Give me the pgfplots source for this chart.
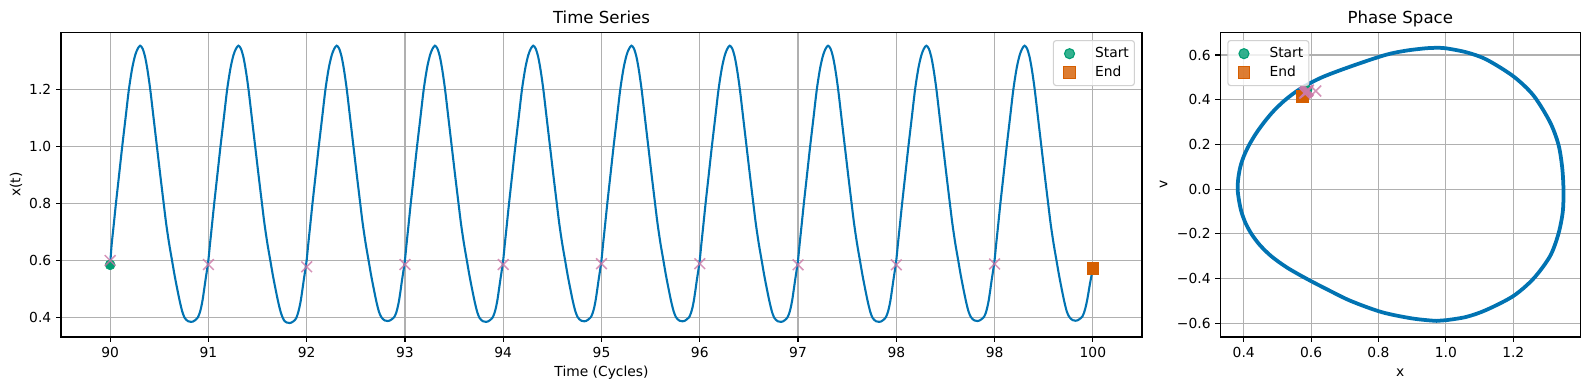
\documentclass[border=0pt]{standalone}
\usepackage{fontspec}
\setmainfont{DejaVu Sans}
\usepackage{pgfplots}
\pgfplotsset{compat=1.18}
\definecolor{cbblue}{HTML}{0173B2}
\definecolor{cbgreen}{HTML}{029E73}
\definecolor{cborange}{HTML}{D55E00}
\definecolor{cbpink}{HTML}{CC79A7}
\definecolor{gridgray}{HTML}{B0B0B0}
\pgfplotsset{
  mplstyle/.style={
    scale only axis,
    axis line style={line width=0.8bp},
    every tick/.style={black, line width=0.8bp},
    major tick length=3.5bp,
    tick align=outside,
    xtick pos=left, ytick pos=left,
    grid=major,
    major grid style={gridgray, line width=0.8bp},
    tick label style={font=\fontsize{10}{12}\selectfont},
    label style={font=\fontsize{10}{12}\selectfont},
    xlabel style={at={(axis description cs:0.5,0)}, anchor=base, yshift=-28.6bp},
    legend style={draw=black!18, rounded corners=2bp, fill=white, fill opacity=0.8, draw opacity=1, text opacity=1, inner xsep=2bp, inner ysep=3bp, font=\fontsize{10}{12}\selectfont, row sep=0.5bp, line width=0.8bp},
    legend cell align=left,
  },
  mkleg/.style={legend image code/.code={\path[draw=none,fill=none] (0bp,0bp) rectangle (26bp,0bp); \draw[##1] plot coordinates {(9.6bp,0bp)};}},
}
\begin{document}
\begin{tikzpicture}
\useasboundingbox (0,0) rectangle (1144.08bp,280.8bp);
% ---------------- Time series ----------------
\begin{axis}[mplstyle, name=ts,
  at={(43.92bp,38.16bp)}, anchor=south west,
  width=778.32bp, height=219.38bp,
  xmin=89.5, xmax=100.5, ymin=0.332, ymax=1.400,
  xtick={90,91,92,93,94,95,96,97,98,99,100},
  xticklabels={90,91,92,93,94,95,96,97,98,98,100},
  ytick={0.4,0.6,0.8,1.0,1.2},
  yticklabels={0.4,0.6,0.8,1.0,1.2},
  xlabel={Time (Cycles)},
  ylabel={x(t)},
  ylabel style={at={([xshift=-29.3bp]axis description cs:0,0.5)}, anchor=base},
  legend style={at={(0.9935,0.9747)}, anchor=north east},
]
\addplot[cbblue, line width=1.5bp, smooth, forget plot] table {
90.000 0.585
90.015 0.654
90.035 0.720
90.059 0.800
90.091 0.900
90.123 1.000
90.157 1.100
90.191 1.200
90.225 1.275
90.255 1.320
90.280 1.342
90.305 1.353
90.330 1.343
90.355 1.315
90.380 1.268
90.408 1.200
90.442 1.100
90.476 1.000
90.510 0.900
90.545 0.800
90.570 0.730
90.600 0.660
90.630 0.600
90.655 0.550
90.683 0.500
90.710 0.455
90.735 0.420
90.757 0.400
90.775 0.392
90.795 0.387
90.825 0.385
90.845 0.3865
90.865 0.391
90.880 0.3955
90.893 0.401
90.910 0.415
90.925 0.434
90.940 0.460
90.954 0.492
90.970 0.531
90.985 0.565
91.000 0.602
91.015 0.654
91.035 0.720
91.059 0.800
91.091 0.900
91.123 1.000
91.157 1.100
91.191 1.200
91.225 1.275
91.255 1.320
91.280 1.342
91.305 1.353
91.330 1.343
91.355 1.315
91.380 1.268
91.408 1.200
91.442 1.100
91.476 1.000
91.510 0.900
91.545 0.800
91.570 0.730
91.600 0.660
91.630 0.600
91.655 0.550
91.683 0.500
91.710 0.455
91.735 0.420
91.757 0.399
91.775 0.388
91.795 0.383
91.825 0.381
91.845 0.3825
91.865 0.387
91.880 0.3915
91.893 0.398
91.910 0.414
91.925 0.434
91.940 0.460
91.954 0.492
91.970 0.531
91.985 0.565
92.000 0.602
92.015 0.654
92.035 0.720
92.059 0.800
92.091 0.900
92.123 1.000
92.157 1.100
92.191 1.200
92.225 1.275
92.255 1.320
92.280 1.342
92.305 1.353
92.330 1.343
92.355 1.315
92.380 1.268
92.408 1.200
92.442 1.100
92.476 1.000
92.510 0.900
92.545 0.800
92.570 0.730
92.600 0.660
92.630 0.600
92.655 0.550
92.683 0.500
92.710 0.455
92.735 0.421
92.757 0.403
92.775 0.395
92.795 0.390
92.825 0.388
92.845 0.3895
92.865 0.394
92.880 0.398
92.893 0.403
92.910 0.416
92.925 0.435
92.940 0.460
92.954 0.492
92.970 0.531
92.985 0.565
93.000 0.602
93.015 0.654
93.035 0.720
93.059 0.800
93.091 0.900
93.123 1.000
93.157 1.100
93.191 1.200
93.225 1.275
93.255 1.320
93.280 1.342
93.305 1.353
93.330 1.343
93.355 1.315
93.380 1.268
93.408 1.200
93.442 1.100
93.476 1.000
93.510 0.900
93.545 0.800
93.570 0.730
93.600 0.660
93.630 0.600
93.655 0.550
93.683 0.500
93.710 0.455
93.735 0.420
93.757 0.400
93.775 0.392
93.795 0.387
93.825 0.385
93.845 0.3865
93.865 0.391
93.880 0.3955
93.893 0.401
93.910 0.415
93.925 0.434
93.940 0.460
93.954 0.492
93.970 0.531
93.985 0.565
94.000 0.602
94.015 0.654
94.035 0.720
94.059 0.800
94.091 0.900
94.123 1.000
94.157 1.100
94.191 1.200
94.225 1.275
94.255 1.320
94.280 1.342
94.305 1.353
94.330 1.343
94.355 1.315
94.380 1.268
94.408 1.200
94.442 1.100
94.476 1.000
94.510 0.900
94.545 0.800
94.570 0.730
94.600 0.660
94.630 0.600
94.655 0.550
94.683 0.500
94.710 0.455
94.735 0.421
94.757 0.402
94.775 0.394
94.795 0.389
94.825 0.387
94.845 0.3885
94.865 0.393
94.880 0.3975
94.893 0.402
94.910 0.416
94.925 0.434
94.940 0.460
94.954 0.492
94.970 0.531
94.985 0.565
95.000 0.602
95.015 0.654
95.035 0.720
95.059 0.800
95.091 0.900
95.123 1.000
95.157 1.100
95.191 1.200
95.225 1.275
95.255 1.320
95.280 1.342
95.305 1.353
95.330 1.343
95.355 1.315
95.380 1.268
95.408 1.200
95.442 1.100
95.476 1.000
95.510 0.900
95.545 0.800
95.570 0.730
95.600 0.660
95.630 0.600
95.655 0.550
95.683 0.500
95.710 0.455
95.735 0.421
95.757 0.402
95.775 0.394
95.795 0.389
95.825 0.387
95.845 0.3885
95.865 0.393
95.880 0.3975
95.893 0.402
95.910 0.416
95.925 0.434
95.940 0.460
95.954 0.492
95.970 0.531
95.985 0.565
96.000 0.602
96.015 0.654
96.035 0.720
96.059 0.800
96.091 0.900
96.123 1.000
96.157 1.100
96.191 1.200
96.225 1.275
96.255 1.320
96.280 1.342
96.305 1.353
96.330 1.343
96.355 1.315
96.380 1.268
96.408 1.200
96.442 1.100
96.476 1.000
96.510 0.900
96.545 0.800
96.570 0.730
96.600 0.660
96.630 0.600
96.655 0.550
96.683 0.500
96.710 0.455
96.735 0.420
96.757 0.400
96.775 0.392
96.795 0.387
96.825 0.385
96.845 0.3865
96.865 0.391
96.880 0.3955
96.893 0.401
96.910 0.415
96.925 0.434
96.940 0.460
96.954 0.492
96.970 0.531
96.985 0.565
97.000 0.602
97.015 0.654
97.035 0.720
97.059 0.800
97.091 0.900
97.123 1.000
97.157 1.100
97.191 1.200
97.225 1.275
97.255 1.320
97.280 1.342
97.305 1.353
97.330 1.343
97.355 1.315
97.380 1.268
97.408 1.200
97.442 1.100
97.476 1.000
97.510 0.900
97.545 0.800
97.570 0.730
97.600 0.660
97.630 0.600
97.655 0.550
97.683 0.500
97.710 0.455
97.735 0.420
97.757 0.400
97.775 0.392
97.795 0.387
97.825 0.385
97.845 0.3865
97.865 0.391
97.880 0.3955
97.893 0.401
97.910 0.415
97.925 0.434
97.940 0.460
97.954 0.492
97.970 0.531
97.985 0.565
98.000 0.602
98.015 0.654
98.035 0.720
98.059 0.800
98.091 0.900
98.123 1.000
98.157 1.100
98.191 1.200
98.225 1.275
98.255 1.320
98.280 1.342
98.305 1.353
98.330 1.343
98.355 1.315
98.380 1.268
98.408 1.200
98.442 1.100
98.476 1.000
98.510 0.900
98.545 0.800
98.570 0.730
98.600 0.660
98.630 0.600
98.655 0.550
98.683 0.500
98.710 0.455
98.735 0.421
98.757 0.403
98.775 0.395
98.795 0.390
98.825 0.388
98.845 0.3895
98.865 0.394
98.880 0.398
98.893 0.403
98.910 0.416
98.925 0.435
98.940 0.460
98.954 0.492
98.970 0.531
98.985 0.565
99.000 0.602
99.015 0.654
99.035 0.720
99.059 0.800
99.091 0.900
99.123 1.000
99.157 1.100
99.191 1.200
99.225 1.275
99.255 1.320
99.280 1.342
99.305 1.353
99.330 1.343
99.355 1.315
99.380 1.268
99.408 1.200
99.442 1.100
99.476 1.000
99.510 0.900
99.545 0.800
99.570 0.730
99.600 0.660
99.630 0.600
99.655 0.550
99.683 0.500
99.710 0.455
99.735 0.421
99.757 0.404
99.775 0.396
99.795 0.391
99.825 0.389
99.845 0.3905
99.865 0.395
99.880 0.399
99.893 0.404
99.910 0.417
99.925 0.435
99.940 0.458
99.954 0.485
99.970 0.518
99.985 0.545
100.000 0.572
};
\addplot[only marks, mark=*, mark size=3.6bp, draw=cbgreen, fill=cbgreen, mkleg] coordinates {(90,0.585)};
\addlegendentry{Start}
\addplot[only marks, mark=square*, mark size=4.2bp, draw=cborange, fill=cborange, mkleg] coordinates {(100,0.572)};
\addlegendentry{End}
\addplot[only marks, mark=x, mark size=5.45bp, cbpink, line width=1.1bp, opacity=0.8, forget plot] coordinates {
(90,0.600) (91,0.586) (92,0.578) (93,0.586) (94,0.586) (95,0.589) (96,0.589) (97,0.585) (98,0.585) (99,0.588)
};
\end{axis}
\node[anchor=base, font=\fontsize{12}{14}\selectfont] at ([yshift=6.5bp]ts.north) {Time Series};
% ---------------- Phase space ----------------
\begin{axis}[mplstyle, name=ps,
  at={(878.62bp,38.16bp)}, anchor=south west,
  width=259.2bp, height=219.38bp,
  xmin=0.3306, xmax=1.399, ymin=-0.661, ymax=0.7015,
  xtick={0.4,0.6,0.8,1.0,1.2},
  xticklabels={0.4,0.6,0.8,1.0,1.2},
  ytick={-0.6,-0.4,-0.2,0,0.2,0.4,0.6},
  yticklabels={−0.6,−0.4,−0.2,0.0,0.2,0.4,0.6},
  xlabel={x},
  ylabel={v},
  ylabel style={at={([xshift=-38.2bp]axis description cs:0,0.5)}, anchor=base},
  legend style={at={(0.0194,0.9747)}, anchor=north west},
]
\addplot[cbblue, line width=2.7bp, smooth, forget plot] coordinates {
(0.971,0.632) (1.000,0.630) (1.061,0.612) (1.120,0.580) (1.200,0.505) (1.260,0.419)
(1.309,0.300) (1.334,0.200) (1.345,0.100) (1.349,0.000) (1.347,-0.100) (1.334,-0.200)
(1.309,-0.300) (1.260,-0.400) (1.200,-0.478) (1.120,-0.540) (1.061,-0.571) (1.000,-0.586)
(0.972,-0.589) (0.900,-0.578) (0.810,-0.550) (0.718,-0.500) (0.650,-0.450) (0.586,-0.400)
(0.528,-0.350) (0.482,-0.300) (0.448,-0.250) (0.423,-0.200) (0.405,-0.150) (0.393,-0.100)
(0.386,-0.050) (0.382,0.000) (0.384,0.050) (0.390,0.100) (0.401,0.150) (0.417,0.200)
(0.437,0.250) (0.461,0.300) (0.489,0.350) (0.524,0.400) (0.569,0.450) (0.632,0.500)
(0.720,0.550) (0.820,0.600) (0.880,0.619) (0.940,0.630) (0.971,0.632)
};
\addplot[only marks, mark=*, mark size=3.6bp, draw=cbgreen, fill=cbgreen, mkleg] coordinates {(0.588,0.444)};
\addlegendentry{Start}
\addplot[only marks, mark=square*, mark size=4.2bp, draw=cborange, fill=cborange, mkleg] coordinates {(0.573,0.415)};
\addlegendentry{End}
\addplot[only marks, mark=x, mark size=5.45bp, cbpink, line width=1.1bp, opacity=0.8, forget plot] coordinates {
(0.614,0.439) (0.582,0.429) (0.585,0.435) (0.590,0.440) (0.588,0.437) (0.580,0.430) (0.586,0.436) (0.592,0.443) (0.584,0.433) (0.589,0.438)
};
\end{axis}
\node[anchor=base, font=\fontsize{12}{14}\selectfont] at ([yshift=6.5bp]ps.north) {Phase Space};
\end{tikzpicture}
\end{document}
